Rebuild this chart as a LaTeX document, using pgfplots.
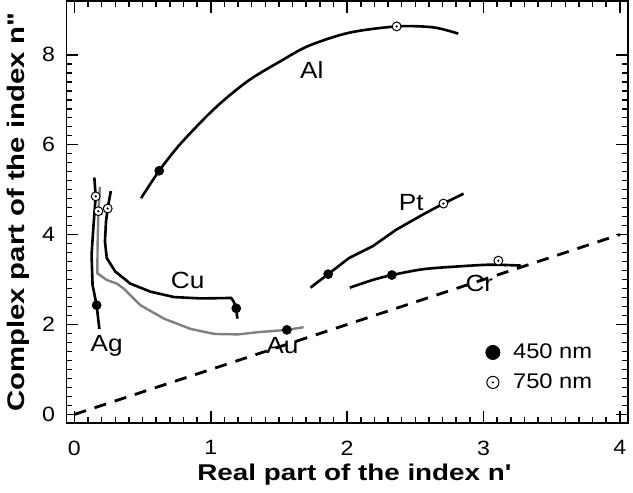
\documentclass[border=0pt]{standalone}
\usepackage{fontspec}
\setmainfont{Liberation Sans}[FakeStretch=1.12, Ligatures=TeXOff]
\newfontfamily\labelfont{Liberation Sans}[FakeStretch=1.22, Ligatures=TeXOff]
\usepackage{pgfplots}
\pgfplotsset{compat=1.18}

% open circle with a dot in the middle
\pgfdeclareplotmark{dotcircle}{%
  \pgfpathcircle{\pgfpointorigin}{\pgfplotmarksize}%
  \pgfusepathqfillstroke
  \pgfpathcircle{\pgfpointorigin}{0.25pt}%
  \pgfusepathqstroke
}
% legend mark with more room before the text
\pgfplotsset{
  wide legend mark/.style={legend image code/.code={%
    \path[draw=none, fill=none] (-3.5pt,0pt) -- (8pt,0pt);
    \draw[##1] plot coordinates {(0pt,0pt)};}},
}

\begin{document}
\begin{tikzpicture}
\begin{axis}[
    scale only axis,
    width=278.5pt, height=209.5pt,
    xmin=-0.06, xmax=4.06, ymin=-0.2, ymax=9.2,
    xtick={0,1,2,3,4}, ytick={0,2,4,6,8},
    minor x tick num=9, minor y tick num=9,
    tick pos=both, tick align=inside,
    major tick length=6pt, minor tick length=3pt,
    tick style={black, line width=0.8pt},
    /pgf/number format/assume math mode=true,
    ticklabel style={font=\fontsize{10.25}{12}\selectfont},
    xticklabel style={yshift=-5pt},
    yticklabel style={xshift=-2pt},
    xlabel={\labelfont\bfseries\fontsize{11.3}{13}\selectfont Real part of the index n'},
    ylabel={\labelfont\bfseries\fontsize{11.9}{14}\selectfont Complex part of the index n"},
    every axis x label/.style={at={(axis description cs:0.513,-0.122)}, anchor=center},
    every axis y label/.style={at={(axis description cs:-0.086,0.5)}, rotate=90, anchor=center},
    legend style={draw=none, fill=none, at={(axis cs:2.97,1.045)}, anchor=west,
        font=\fontsize{10.5}{12.6}\selectfont, row sep=2pt},
    legend cell align=left,
]
% n'' = n' reference line
\addplot[black, line width=1.4pt, dash pattern=on 6pt off 4.5pt, forget plot]
    coordinates {(0,0) (4,4)};

% Al
\addplot[black, line width=1.3pt, smooth, forget plot] coordinates {
(0.489,4.81) (0.622,5.42) (0.778,6.02) (1.030,6.81) (1.274,7.42) (1.519,7.87)
(1.719,8.20) (2.015,8.49) (2.363,8.63) (2.630,8.61) (2.815,8.47)};
% Ag
\addplot[black, line width=1.3pt, forget plot] coordinates {
(0.146,5.27) (0.156,4.85) (0.139,4.16) (0.126,3.55) (0.133,2.88) (0.163,2.43) (0.183,1.90)};
% Au
\addplot[gray, line width=1.2pt, forget plot] coordinates {
(0.187,5.06) (0.176,4.52) (0.170,3.78) (0.168,3.14) (0.237,2.99) (0.311,2.91)
(0.361,2.80) (0.484,2.43) (0.657,2.13) (0.854,1.90) (1.027,1.79) (1.200,1.78)
(1.348,1.83) (1.558,1.88) (1.681,1.94)};
% Cu
\addplot[black, line width=1.3pt, forget plot] coordinates {
(0.267,4.97) (0.244,4.58) (0.232,4.30) (0.224,3.85) (0.237,3.48) (0.299,3.18)
(0.410,2.91) (0.558,2.73) (0.731,2.61) (0.928,2.58) (1.150,2.59) (1.168,2.51)
(1.187,2.36) (1.195,2.13)};
% Pt
\addplot[black, line width=1.3pt, forget plot] coordinates {
(1.731,2.82) (1.861,3.12) (2.015,3.48) (2.187,3.74) (2.361,4.11) (2.558,4.45)
(2.706,4.69) (2.854,4.91)};
% Cr
\addplot[black, line width=1.3pt, smooth, forget plot] coordinates {
(2.020,2.82) (2.187,2.99) (2.328,3.10) (2.558,3.23) (2.805,3.29) (3.052,3.33) (3.274,3.31)};

% 450 nm points
\addplot[only marks, mark=*, mark size=2.2pt, black, forget plot] coordinates {
(0.622,5.42) (0.163,2.43) (1.558,1.88) (1.187,2.36) (1.861,3.12) (2.328,3.10)};
% 750 nm points
\addplot[only marks, mark=dotcircle, mark size=2.2pt, forget plot,
    mark options={draw=black, fill=white, line width=0.5pt}] coordinates {
(2.363,8.63) (0.156,4.85) (0.176,4.52) (0.244,4.58) (2.706,4.69) (3.109,3.42)};

\addlegendimage{only marks, mark=*, mark size=3.5pt, black, wide legend mark}
\addlegendentry{450 nm}
\addlegendimage{only marks, mark=dotcircle, mark size=3pt,
    mark options={draw=black, fill=white, line width=0.5pt}, wide legend mark}
\addlegendentry{750 nm}

% curve labels
\node[font=\fontsize{11.6}{14}\selectfont] at (axis cs:1.74,7.66) {Al};
\node[font=\fontsize{11.6}{14}\selectfont] at (axis cs:0.83,2.99) {Cu};
\node[font=\fontsize{11.6}{14}\selectfont] at (axis cs:0.237,1.53) {Ag};
\node[font=\fontsize{11.6}{14}\selectfont] at (axis cs:1.526,1.53) {Au};
\node[font=\fontsize{11.6}{14}\selectfont] at (axis cs:2.47,4.72) {Pt};
\node[font=\fontsize{11.6}{14}\selectfont] at (axis cs:2.97,2.92) {Cr};

% heavier frame
\draw[black, line width=1.2pt] (rel axis cs:0,0) rectangle (rel axis cs:1,1);
% margins round the axis
\path[draw=none] (rel axis cs:0,0) -- ++(-35pt,-33.5pt);
\path[draw=none] (rel axis cs:1,1) -- ++(3pt,4pt);
\end{axis}
\end{tikzpicture}
\end{document}
